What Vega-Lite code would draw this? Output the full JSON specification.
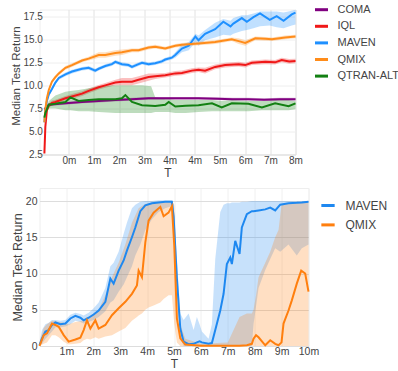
{
"$schema": "https://vega.github.io/schema/vega-lite/v6.json",
"background": "white",
"padding": {"left": 9.5, "top": 0.5, "right": 0, "bottom": 0},
"spacing": 7.5,
"config": {
  "font": "Liberation Sans",
  "axis": {"labelColor": "#444", "titleColor": "#444", "ticks": false, "domain": false, "titleFontWeight": "normal", "labelOverlap": false, "labelFlush": false},
  "legend": {"labelColor": "#444", "symbolType": "stroke", "symbolStrokeWidth": 3, "symbolOpacity": 1},
  "view": {"stroke": "#eeeeee"}
},
"resolve": {"scale": {"color": "independent"}, "legend": {"color": "independent"}},
"datasets": {
"top": [
{"s":"COMA","t":0,"y":7.4,"lo":7.2,"hi":7.6},{"s":"COMA","t":0.14,"y":7.9,"lo":7.75,"hi":8.05},{"s":"COMA","t":0.67,"y":8.05,"lo":7.9,"hi":8.2},{"s":"COMA","t":1.2,"y":8.2,"lo":8.05,"hi":8.35},{"s":"COMA","t":1.73,"y":8.3,"lo":8.15,"hi":8.45},{"s":"COMA","t":2.26,"y":8.4,"lo":8.25,"hi":8.55},{"s":"COMA","t":2.79,"y":8.5,"lo":8.35,"hi":8.65},{"s":"COMA","t":3.32,"y":8.6,"lo":8.45,"hi":8.75},{"s":"COMA","t":4.0,"y":8.6,"lo":8.45,"hi":8.75},{"s":"COMA","t":4.9,"y":8.6,"lo":8.45,"hi":8.75},{"s":"COMA","t":5.5,"y":8.55,"lo":8.4,"hi":8.7},{"s":"COMA","t":6.0,"y":8.5,"lo":8.35,"hi":8.65},{"s":"COMA","t":6.5,"y":8.5,"lo":8.35,"hi":8.65},{"s":"COMA","t":7.0,"y":8.45,"lo":8.3,"hi":8.6},{"s":"COMA","t":7.5,"y":8.5,"lo":8.35,"hi":8.65},{"s":"COMA","t":8.0,"y":8.5,"lo":8.35,"hi":8.65},
{"s":"IQL","t":0,"y":2.6,"lo":2.5,"hi":2.8},{"s":"IQL","t":0.03,"y":5.5,"lo":5.2,"hi":5.8},{"s":"IQL","t":0.08,"y":7.3,"lo":7.0,"hi":7.6},{"s":"IQL","t":0.14,"y":7.8,"lo":7.55,"hi":8.05},{"s":"IQL","t":0.24,"y":8.1,"lo":7.85,"hi":8.35},{"s":"IQL","t":0.35,"y":8.2,"lo":7.95,"hi":8.45},{"s":"IQL","t":0.67,"y":8.6,"lo":8.35,"hi":8.85},{"s":"IQL","t":0.88,"y":8.8,"lo":8.55,"hi":9.05},{"s":"IQL","t":1.2,"y":9.1,"lo":8.85,"hi":9.35},{"s":"IQL","t":1.41,"y":9.4,"lo":9.15,"hi":9.65},{"s":"IQL","t":1.73,"y":9.8,"lo":9.55,"hi":10.05},{"s":"IQL","t":1.94,"y":10.0,"lo":9.75,"hi":10.25},{"s":"IQL","t":2.26,"y":10.3,"lo":10.0,"hi":10.6},{"s":"IQL","t":2.47,"y":10.4,"lo":10.0,"hi":10.8},{"s":"IQL","t":2.79,"y":10.4,"lo":10.0,"hi":10.8},{"s":"IQL","t":3.0,"y":10.6,"lo":10.2,"hi":11.0},{"s":"IQL","t":3.32,"y":10.9,"lo":10.5,"hi":11.3},{"s":"IQL","t":3.53,"y":11.0,"lo":10.7,"hi":11.3},{"s":"IQL","t":3.85,"y":11.1,"lo":10.85,"hi":11.35},{"s":"IQL","t":4.17,"y":11.3,"lo":11.05,"hi":11.55},{"s":"IQL","t":4.38,"y":11.35,"lo":11.1,"hi":11.6},{"s":"IQL","t":4.7,"y":11.6,"lo":11.35,"hi":11.85},{"s":"IQL","t":4.91,"y":11.7,"lo":11.45,"hi":11.95},{"s":"IQL","t":5.12,"y":11.6,"lo":11.3,"hi":11.9},{"s":"IQL","t":5.44,"y":12.0,"lo":11.75,"hi":12.25},{"s":"IQL","t":5.76,"y":12.2,"lo":11.95,"hi":12.45},{"s":"IQL","t":6.19,"y":12.3,"lo":12.05,"hi":12.55},{"s":"IQL","t":6.4,"y":12.2,"lo":11.95,"hi":12.45},{"s":"IQL","t":6.61,"y":12.45,"lo":12.2,"hi":12.7},{"s":"IQL","t":7.04,"y":12.55,"lo":12.3,"hi":12.8},{"s":"IQL","t":7.35,"y":12.5,"lo":12.25,"hi":12.75},{"s":"IQL","t":7.56,"y":12.75,"lo":12.5,"hi":13.0},{"s":"IQL","t":7.8,"y":12.6,"lo":12.35,"hi":12.85},{"s":"IQL","t":8.0,"y":12.65,"lo":12.4,"hi":12.9},
{"s":"MAVEN","t":0,"y":6.0,"lo":5.8,"hi":6.2},{"s":"MAVEN","t":0.03,"y":7.3,"lo":7.1,"hi":7.5},{"s":"MAVEN","t":0.08,"y":8.3,"lo":8.1,"hi":8.5},{"s":"MAVEN","t":0.14,"y":9.0,"lo":8.8,"hi":9.2},{"s":"MAVEN","t":0.24,"y":9.6,"lo":9.4,"hi":9.8},{"s":"MAVEN","t":0.35,"y":10.3,"lo":10.1,"hi":10.5},{"s":"MAVEN","t":0.46,"y":10.8,"lo":10.6,"hi":11.0},{"s":"MAVEN","t":0.67,"y":11.2,"lo":11.0,"hi":11.4},{"s":"MAVEN","t":0.88,"y":11.5,"lo":11.3,"hi":11.7},{"s":"MAVEN","t":1.2,"y":11.8,"lo":11.6,"hi":12.0},{"s":"MAVEN","t":1.41,"y":11.9,"lo":11.7,"hi":12.1},{"s":"MAVEN","t":1.62,"y":11.6,"lo":11.4,"hi":11.8},{"s":"MAVEN","t":1.73,"y":11.8,"lo":11.6,"hi":12.0},{"s":"MAVEN","t":1.94,"y":12.1,"lo":11.9,"hi":12.3},{"s":"MAVEN","t":2.15,"y":12.3,"lo":12.1,"hi":12.5},{"s":"MAVEN","t":2.26,"y":12.55,"lo":12.35,"hi":12.75},{"s":"MAVEN","t":2.47,"y":12.3,"lo":12.1,"hi":12.5},{"s":"MAVEN","t":2.68,"y":12.2,"lo":12.0,"hi":12.4},{"s":"MAVEN","t":2.79,"y":12.0,"lo":11.8,"hi":12.2},{"s":"MAVEN","t":3.0,"y":12.3,"lo":12.1,"hi":12.5},{"s":"MAVEN","t":3.11,"y":12.45,"lo":12.25,"hi":12.65},{"s":"MAVEN","t":3.32,"y":12.3,"lo":12.1,"hi":12.5},{"s":"MAVEN","t":3.53,"y":12.4,"lo":12.2,"hi":12.6},{"s":"MAVEN","t":3.74,"y":12.6,"lo":12.4,"hi":12.8},{"s":"MAVEN","t":3.85,"y":12.8,"lo":12.6,"hi":13.0},{"s":"MAVEN","t":4.06,"y":13.0,"lo":12.8,"hi":13.2},{"s":"MAVEN","t":4.17,"y":13.3,"lo":13.0,"hi":13.6},{"s":"MAVEN","t":4.38,"y":14.0,"lo":13.6,"hi":14.4},{"s":"MAVEN","t":4.6,"y":14.3,"lo":13.8,"hi":14.7},{"s":"MAVEN","t":4.81,"y":15.3,"lo":14.7,"hi":15.6},{"s":"MAVEN","t":4.91,"y":14.9,"lo":14.3,"hi":15.4},{"s":"MAVEN","t":5.12,"y":15.6,"lo":14.9,"hi":16.0},{"s":"MAVEN","t":5.44,"y":16.1,"lo":15.2,"hi":16.8},{"s":"MAVEN","t":5.7,"y":16.9,"lo":15.5,"hi":17.2},{"s":"MAVEN","t":5.93,"y":16.4,"lo":15.4,"hi":17.0},{"s":"MAVEN","t":6.02,"y":16.7,"lo":15.6,"hi":17.3},{"s":"MAVEN","t":6.29,"y":17.3,"lo":15.9,"hi":17.6},{"s":"MAVEN","t":6.45,"y":16.9,"lo":16.0,"hi":17.6},{"s":"MAVEN","t":6.66,"y":17.4,"lo":16.2,"hi":17.8},{"s":"MAVEN","t":6.87,"y":17.8,"lo":16.4,"hi":18.0},{"s":"MAVEN","t":7.18,"y":17.1,"lo":16.5,"hi":18.0},{"s":"MAVEN","t":7.4,"y":17.5,"lo":16.3,"hi":18.0},{"s":"MAVEN","t":7.62,"y":17.0,"lo":16.2,"hi":17.9},{"s":"MAVEN","t":7.88,"y":17.7,"lo":16.5,"hi":18.1},{"s":"MAVEN","t":8.0,"y":17.9,"lo":16.6,"hi":18.2},
{"s":"QMIX","t":0,"y":6.0,"lo":5.8,"hi":6.2},{"s":"QMIX","t":0.03,"y":7.4,"lo":7.2,"hi":7.6},{"s":"QMIX","t":0.08,"y":8.6,"lo":8.4,"hi":8.8},{"s":"QMIX","t":0.14,"y":9.5,"lo":9.3,"hi":9.7},{"s":"QMIX","t":0.24,"y":10.4,"lo":10.2,"hi":10.6},{"s":"QMIX","t":0.35,"y":10.9,"lo":10.7,"hi":11.1},{"s":"QMIX","t":0.46,"y":11.3,"lo":11.1,"hi":11.5},{"s":"QMIX","t":0.67,"y":11.9,"lo":11.7,"hi":12.1},{"s":"QMIX","t":0.88,"y":12.2,"lo":12.0,"hi":12.4},{"s":"QMIX","t":1.2,"y":12.7,"lo":12.5,"hi":12.9},{"s":"QMIX","t":1.41,"y":12.9,"lo":12.7,"hi":13.1},{"s":"QMIX","t":1.73,"y":13.3,"lo":13.0,"hi":13.6},{"s":"QMIX","t":1.94,"y":13.3,"lo":13.0,"hi":13.6},{"s":"QMIX","t":2.26,"y":13.5,"lo":13.2,"hi":13.8},{"s":"QMIX","t":2.47,"y":13.6,"lo":13.3,"hi":13.9},{"s":"QMIX","t":2.79,"y":13.8,"lo":13.6,"hi":14.0},{"s":"QMIX","t":3.0,"y":13.8,"lo":13.6,"hi":14.0},{"s":"QMIX","t":3.32,"y":14.1,"lo":13.9,"hi":14.3},{"s":"QMIX","t":3.53,"y":14.2,"lo":14.0,"hi":14.4},{"s":"QMIX","t":3.85,"y":14.0,"lo":13.8,"hi":14.2},{"s":"QMIX","t":4.17,"y":14.3,"lo":14.1,"hi":14.5},{"s":"QMIX","t":4.38,"y":14.4,"lo":14.2,"hi":14.6},{"s":"QMIX","t":4.91,"y":14.55,"lo":14.35,"hi":14.75},{"s":"QMIX","t":5.44,"y":14.7,"lo":14.5,"hi":14.9},{"s":"QMIX","t":5.97,"y":15.0,"lo":14.8,"hi":15.2},{"s":"QMIX","t":6.19,"y":14.8,"lo":14.5,"hi":15.1},{"s":"QMIX","t":6.4,"y":14.6,"lo":14.3,"hi":14.9},{"s":"QMIX","t":6.72,"y":15.1,"lo":14.9,"hi":15.3},{"s":"QMIX","t":7.04,"y":15.05,"lo":14.85,"hi":15.25},{"s":"QMIX","t":7.25,"y":15.0,"lo":14.8,"hi":15.2},{"s":"QMIX","t":7.67,"y":15.2,"lo":15.0,"hi":15.4},{"s":"QMIX","t":8.0,"y":15.3,"lo":15.1,"hi":15.5},
{"s":"QTRAN-ALT","t":0,"y":6.5,"lo":6.3,"hi":6.7},{"s":"QTRAN-ALT","t":0.03,"y":7.0,"lo":6.8,"hi":7.3},{"s":"QTRAN-ALT","t":0.14,"y":7.9,"lo":7.5,"hi":8.3},{"s":"QTRAN-ALT","t":0.35,"y":8.0,"lo":7.5,"hi":8.9},{"s":"QTRAN-ALT","t":0.67,"y":8.2,"lo":7.3,"hi":9.3},{"s":"QTRAN-ALT","t":0.83,"y":8.7,"lo":7.3,"hi":9.4},{"s":"QTRAN-ALT","t":1.09,"y":8.3,"lo":7.2,"hi":9.5},{"s":"QTRAN-ALT","t":1.41,"y":8.4,"lo":7.2,"hi":9.7},{"s":"QTRAN-ALT","t":1.73,"y":8.5,"lo":7.1,"hi":9.9},{"s":"QTRAN-ALT","t":2.26,"y":8.5,"lo":7.0,"hi":10.0},{"s":"QTRAN-ALT","t":2.47,"y":8.6,"lo":7.0,"hi":10.0},{"s":"QTRAN-ALT","t":2.58,"y":8.95,"lo":7.0,"hi":10.0},{"s":"QTRAN-ALT","t":2.79,"y":8.2,"lo":7.0,"hi":10.0},{"s":"QTRAN-ALT","t":3.11,"y":7.85,"lo":7.0,"hi":10.0},{"s":"QTRAN-ALT","t":3.4,"y":7.8,"lo":7.0,"hi":9.9},{"s":"QTRAN-ALT","t":3.53,"y":7.75,"lo":7.1,"hi":8.7},{"s":"QTRAN-ALT","t":3.85,"y":7.9,"lo":7.1,"hi":8.5},{"s":"QTRAN-ALT","t":3.96,"y":8.2,"lo":7.1,"hi":8.5},{"s":"QTRAN-ALT","t":4.17,"y":7.7,"lo":7.0,"hi":8.4},{"s":"QTRAN-ALT","t":4.5,"y":7.8,"lo":7.0,"hi":8.4},{"s":"QTRAN-ALT","t":4.91,"y":7.85,"lo":7.1,"hi":8.4},{"s":"QTRAN-ALT","t":5.34,"y":8.05,"lo":7.2,"hi":8.4},{"s":"QTRAN-ALT","t":5.65,"y":7.6,"lo":7.2,"hi":8.3},{"s":"QTRAN-ALT","t":5.97,"y":8.05,"lo":7.2,"hi":8.4},{"s":"QTRAN-ALT","t":6.5,"y":8.0,"lo":7.2,"hi":8.3},{"s":"QTRAN-ALT","t":6.93,"y":7.6,"lo":7.3,"hi":8.3},{"s":"QTRAN-ALT","t":7.35,"y":8.05,"lo":7.3,"hi":8.4},{"s":"QTRAN-ALT","t":7.78,"y":7.75,"lo":7.3,"hi":8.4},{"s":"QTRAN-ALT","t":8.0,"y":8.05,"lo":7.4,"hi":8.3}
],
"bottom": [
{"s":"MAVEN","t":0,"y":0.1,"lo":0,"hi":0.5},{"s":"MAVEN","t":0.093,"y":1.05,"lo":0.3,"hi":2.2},{"s":"MAVEN","t":0.219,"y":2.0,"lo":1.0,"hi":3.0},{"s":"MAVEN","t":0.342,"y":2.2,"lo":1.5,"hi":3.2},{"s":"MAVEN","t":0.464,"y":2.9,"lo":2.0,"hi":3.6},{"s":"MAVEN","t":0.591,"y":3.25,"lo":2.6,"hi":3.6},{"s":"MAVEN","t":0.776,"y":3.0,"lo":2.6,"hi":3.5},{"s":"MAVEN","t":0.962,"y":3.1,"lo":2.7,"hi":3.6},{"s":"MAVEN","t":1.148,"y":3.8,"lo":3.0,"hi":4.3},{"s":"MAVEN","t":1.334,"y":4.15,"lo":3.5,"hi":4.6},{"s":"MAVEN","t":1.519,"y":3.9,"lo":3.3,"hi":4.4},{"s":"MAVEN","t":1.642,"y":3.55,"lo":3.1,"hi":4.2},{"s":"MAVEN","t":1.828,"y":3.9,"lo":3.3,"hi":4.6},{"s":"MAVEN","t":2.013,"y":4.35,"lo":3.6,"hi":5.2},{"s":"MAVEN","t":2.199,"y":4.9,"lo":4.0,"hi":6.0},{"s":"MAVEN","t":2.448,"y":6.1,"lo":4.8,"hi":8.0},{"s":"MAVEN","t":2.634,"y":9.3,"lo":6.0,"hi":11.0},{"s":"MAVEN","t":2.756,"y":8.6,"lo":6.3,"hi":11.5},{"s":"MAVEN","t":2.942,"y":10.4,"lo":7.5,"hi":13.0},{"s":"MAVEN","t":3.128,"y":11.8,"lo":8.5,"hi":15.5},{"s":"MAVEN","t":3.25,"y":13.15,"lo":9.5,"hi":17.0},{"s":"MAVEN","t":3.436,"y":15.0,"lo":11.0,"hi":19.0},{"s":"MAVEN","t":3.562,"y":16.35,"lo":12.5,"hi":19.5},{"s":"MAVEN","t":3.748,"y":18.6,"lo":14.0,"hi":19.9},{"s":"MAVEN","t":3.934,"y":19.4,"lo":16.0,"hi":20.0},{"s":"MAVEN","t":4.179,"y":19.7,"lo":17.5,"hi":20.0},{"s":"MAVEN","t":4.428,"y":19.8,"lo":18.5,"hi":20.1},{"s":"MAVEN","t":4.673,"y":19.9,"lo":19.0,"hi":20.1},{"s":"MAVEN","t":4.922,"y":19.9,"lo":19.3,"hi":20.1},{"s":"MAVEN","t":4.985,"y":17.9,"lo":16.0,"hi":19.5},{"s":"MAVEN","t":5.108,"y":9.3,"lo":7.0,"hi":12.0},{"s":"MAVEN","t":5.234,"y":2.4,"lo":1.0,"hi":4.5},{"s":"MAVEN","t":5.357,"y":0.6,"lo":0,"hi":3.6},{"s":"MAVEN","t":5.542,"y":0.25,"lo":0,"hi":4.5},{"s":"MAVEN","t":5.73,"y":0.3,"lo":0,"hi":2.2},{"s":"MAVEN","t":5.85,"y":0.5,"lo":0,"hi":4.0},{"s":"MAVEN","t":5.95,"y":0.65,"lo":0,"hi":3.0},{"s":"MAVEN","t":6.036,"y":0.5,"lo":0,"hi":2.0},{"s":"MAVEN","t":6.285,"y":0.3,"lo":0,"hi":1.0},{"s":"MAVEN","t":6.408,"y":0.4,"lo":0,"hi":3.0},{"s":"MAVEN","t":6.534,"y":2.2,"lo":0,"hi":12.0},{"s":"MAVEN","t":6.72,"y":4.9,"lo":0,"hi":18.5},{"s":"MAVEN","t":6.843,"y":7.2,"lo":0,"hi":19.5},{"s":"MAVEN","t":6.965,"y":11.3,"lo":0,"hi":19.7},{"s":"MAVEN","t":7.091,"y":12.2,"lo":0,"hi":19.7},{"s":"MAVEN","t":7.151,"y":11.3,"lo":0,"hi":19.8},{"s":"MAVEN","t":7.277,"y":14.5,"lo":0,"hi":19.8},{"s":"MAVEN","t":7.437,"y":12.7,"lo":0,"hi":19.8},{"s":"MAVEN","t":7.522,"y":16.35,"lo":0,"hi":19.9},{"s":"MAVEN","t":7.708,"y":18.2,"lo":0,"hi":19.9},{"s":"MAVEN","t":7.894,"y":18.6,"lo":0,"hi":20.0},{"s":"MAVEN","t":7.957,"y":18.6,"lo":3.0,"hi":20.0},{"s":"MAVEN","t":8.143,"y":18.7,"lo":8.0,"hi":20.0},{"s":"MAVEN","t":8.392,"y":18.85,"lo":10.5,"hi":20.0},{"s":"MAVEN","t":8.577,"y":19.1,"lo":12.0,"hi":20.0},{"s":"MAVEN","t":8.763,"y":18.7,"lo":13.5,"hi":20.0},{"s":"MAVEN","t":8.949,"y":19.5,"lo":13.0,"hi":20.0},{"s":"MAVEN","t":9.257,"y":19.7,"lo":14.0,"hi":20.0},{"s":"MAVEN","t":9.565,"y":19.75,"lo":12.5,"hi":20.0},{"s":"MAVEN","t":9.751,"y":19.8,"lo":13.5,"hi":20.0},{"s":"MAVEN","t":10.0,"y":19.9,"lo":14.0,"hi":20.0},
{"s":"QMIX","t":0,"y":0,"lo":0,"hi":0.5},{"s":"QMIX","t":0.156,"y":1.5,"lo":0.3,"hi":2.5},{"s":"QMIX","t":0.279,"y":1.75,"lo":0.5,"hi":3.0},{"s":"QMIX","t":0.464,"y":3.1,"lo":1.5,"hi":3.5},{"s":"QMIX","t":0.591,"y":2.9,"lo":1.5,"hi":3.4},{"s":"QMIX","t":0.713,"y":2.65,"lo":1.2,"hi":3.3},{"s":"QMIX","t":0.899,"y":1.5,"lo":0.6,"hi":3.2},{"s":"QMIX","t":1.085,"y":0.6,"lo":0.2,"hi":3.0},{"s":"QMIX","t":1.334,"y":0.9,"lo":0.3,"hi":3.3},{"s":"QMIX","t":1.519,"y":1.15,"lo":0.4,"hi":3.4},{"s":"QMIX","t":1.642,"y":2.2,"lo":0.8,"hi":3.6},{"s":"QMIX","t":1.765,"y":3.55,"lo":1.0,"hi":3.9},{"s":"QMIX","t":1.891,"y":2.4,"lo":0.9,"hi":4.2},{"s":"QMIX","t":2.077,"y":3.55,"lo":1.2,"hi":4.6},{"s":"QMIX","t":2.199,"y":2.4,"lo":1.0,"hi":5.0},{"s":"QMIX","t":2.448,"y":2.9,"lo":1.3,"hi":7.0},{"s":"QMIX","t":2.693,"y":4.25,"lo":1.5,"hi":9.5},{"s":"QMIX","t":2.942,"y":5.2,"lo":2.0,"hi":11.5},{"s":"QMIX","t":3.191,"y":6.1,"lo":2.5,"hi":14.0},{"s":"QMIX","t":3.436,"y":7.2,"lo":3.5,"hi":17.0},{"s":"QMIX","t":3.622,"y":8.35,"lo":4.0,"hi":18.5},{"s":"QMIX","t":3.685,"y":10.4,"lo":4.2,"hi":19.0},{"s":"QMIX","t":3.808,"y":9.5,"lo":4.5,"hi":19.3},{"s":"QMIX","t":3.934,"y":14.3,"lo":5.0,"hi":19.6},{"s":"QMIX","t":4.056,"y":17.3,"lo":5.3,"hi":19.7},{"s":"QMIX","t":4.242,"y":18.4,"lo":5.6,"hi":19.8},{"s":"QMIX","t":4.491,"y":19.2,"lo":6.0,"hi":19.9},{"s":"QMIX","t":4.614,"y":17.9,"lo":6.5,"hi":19.9},{"s":"QMIX","t":4.798,"y":18.4,"lo":7.0,"hi":20.0},{"s":"QMIX","t":4.922,"y":19.3,"lo":7.0,"hi":20.0},{"s":"QMIX","t":5.011,"y":13.8,"lo":3.0,"hi":19.5},{"s":"QMIX","t":5.108,"y":3.8,"lo":0.5,"hi":9.0},{"s":"QMIX","t":5.234,"y":1.05,"lo":0,"hi":3.0},{"s":"QMIX","t":5.42,"y":0.2,"lo":0,"hi":1.0},{"s":"QMIX","t":6.0,"y":0.05,"lo":0,"hi":0.3},{"s":"QMIX","t":7.0,"y":0.05,"lo":0,"hi":0.5},{"s":"QMIX","t":7.437,"y":0.05,"lo":0,"hi":4.0},{"s":"QMIX","t":7.708,"y":0.1,"lo":0,"hi":4.5},{"s":"QMIX","t":7.894,"y":0.3,"lo":0,"hi":4.5},{"s":"QMIX","t":7.957,"y":1.0,"lo":0,"hi":5.0},{"s":"QMIX","t":8.05,"y":1.5,"lo":0,"hi":7.0},{"s":"QMIX","t":8.143,"y":1.2,"lo":0,"hi":9.5},{"s":"QMIX","t":8.392,"y":0.1,"lo":0,"hi":11.5},{"s":"QMIX","t":8.577,"y":0.8,"lo":0,"hi":13.0},{"s":"QMIX","t":8.763,"y":0.3,"lo":0,"hi":15.0},{"s":"QMIX","t":8.886,"y":0.1,"lo":0,"hi":16.0},{"s":"QMIX","t":8.997,"y":0.5,"lo":0,"hi":19.5},{"s":"QMIX","t":9.071,"y":3.1,"lo":0,"hi":19.6},{"s":"QMIX","t":9.257,"y":4.9,"lo":0,"hi":19.7},{"s":"QMIX","t":9.38,"y":6.3,"lo":0,"hi":19.8},{"s":"QMIX","t":9.565,"y":8.6,"lo":0,"hi":19.8},{"s":"QMIX","t":9.729,"y":10.4,"lo":0,"hi":19.8},{"s":"QMIX","t":9.877,"y":10.0,"lo":0,"hi":19.8},{"s":"QMIX","t":10.0,"y":7.5,"lo":0,"hi":19.8}
]
},
"vconcat": [
{
  "width": 256, "height": 145,
  "data": {"name": "top"},
  "encoding": {
    "x": {"field": "t", "type": "quantitative", "scale": {"domain": [-0.156, 8], "nice": false, "zero": false},
      "axis": {"title": "T", "values": [0.78, 1.58, 2.38, 3.19, 3.99, 4.79, 5.59, 6.4, 7.2, 8.0], "tickCount": 10,
        "labelExpr": "['0m','1m','2m','3m','4m','4m','5m','6m','7m','8m'][round((datum.value - 0.78) / 0.8022)]",
        "grid": true, "gridColor": "#e2e2e2", "domain": true, "domainColor": "#dddddd",
        "labelFontSize": 10, "titleFontSize": 12, "labelPadding": 0.5, "titlePadding": 2.5, "labelOverlap": false}},
    "color": {"field": "s", "type": "nominal",
      "scale": {"domain": ["COMA", "IQL", "MAVEN", "QMIX", "QTRAN-ALT"], "range": ["#800080", "#f01818", "#1e90ff", "#ff8c1a", "#138013"]},
      "legend": {"title": null, "orient": "none", "legendX": 274, "legendY": -7.8, "symbolType": "stroke", "symbolSize": 169, "symbolStrokeWidth": 3, "symbolOpacity": 1, "labelFontSize": 11, "labelOffset": 8, "rowPadding": 2.6}}
  },
  "layer": [
    {"mark": {"type": "area", "opacity": 0.28},
     "encoding": {"y": {"field": "lo", "type": "quantitative", "scale": {"domain": [2.5, 18.23], "nice": false, "zero": false},
        "axis": {"title": "Median Test Return", "values": [2.5, 5, 7.5, 10, 12.5, 15, 17.5], "tickCount": 7, "labelExpr": "format(datum.value, '.1f')", "labelFontSize": 10, "titleFontSize": 11.5, "grid": true, "gridColor": "#eeeeee", "labelPadding": -2.9, "titleX": -18.3, "titleY": 66, "labelOverlap": false}},
      "y2": {"field": "hi"}}},
    {"mark": {"type": "line", "strokeWidth": 2},
     "encoding": {"y": {"field": "y", "type": "quantitative"}}}
  ]
},
{
  "width": 269, "height": 158,
  "data": {"name": "bottom"},
  "encoding": {
    "x": {"field": "t", "type": "quantitative", "scale": {"domain": [0, 10], "nice": false, "zero": false},
      "axis": {"title": "T", "values": [1, 2, 3, 4, 5, 6, 7, 8, 9, 10], "tickCount": 10, "labelExpr": "datum.value + 'm'",
        "grid": true, "gridColor": "#f0f0f0", "labelFontSize": 10.5, "titleFontSize": 12, "labelPadding": 0.5, "titlePadding": 1.5, "labelOverlap": false}},
    "color": {"field": "s", "type": "nominal",
      "scale": {"domain": ["MAVEN", "QMIX"], "range": ["#1e88f0", "#ff7f0e"]},
      "legend": {"title": null, "orient": "none", "legendX": 280, "legendY": 9, "symbolType": "stroke", "symbolSize": 177, "symbolStrokeWidth": 3, "symbolOpacity": 1, "labelFontSize": 12, "labelOffset": 9, "rowPadding": 4.4}}
  },
  "layer": [
    {"mark": {"type": "area", "opacity": 0.25},
     "encoding": {"y": {"field": "lo", "type": "quantitative", "scale": {"domain": [0, 21.8], "nice": false, "zero": false},
        "axis": {"title": "Median Test Return", "values": [0, 5, 10, 15, 20], "tickCount": 5, "format": "d", "labelFontSize": 10.5, "titleFontSize": 12.5, "grid": true, "gridColor": "#dddddd", "labelPadding": 2.5, "titleX": -15.4, "labelOverlap": false}},
      "y2": {"field": "hi"}}},
    {"mark": {"type": "line", "strokeWidth": 2},
     "encoding": {"y": {"field": "y", "type": "quantitative"}}}
  ]
}
]
}
